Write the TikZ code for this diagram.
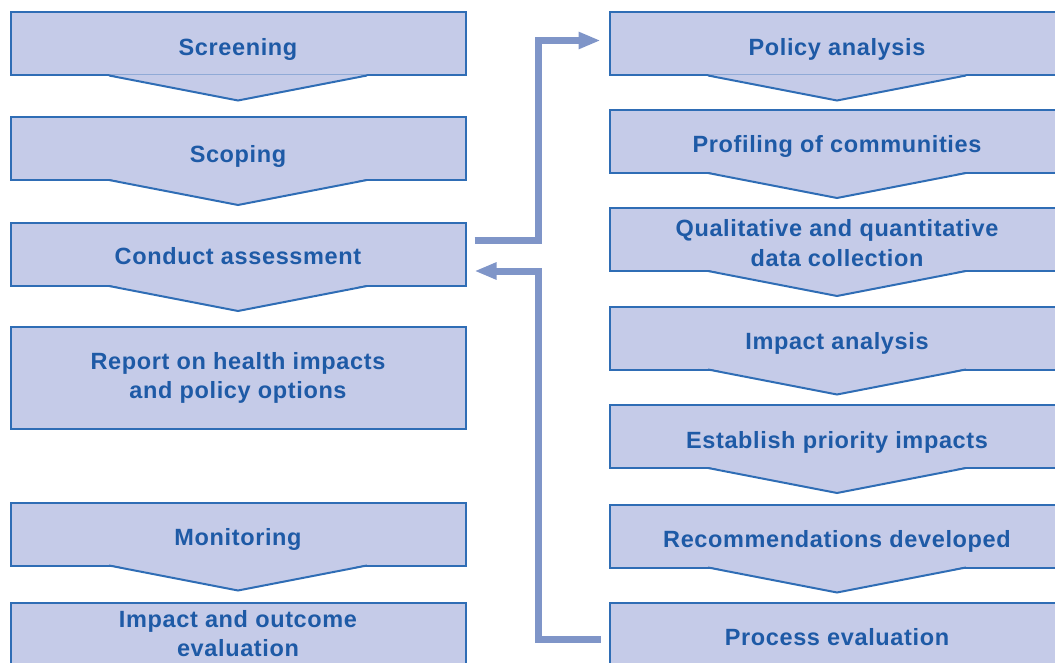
\documentclass[tikz,border=0pt]{standalone}
\usepackage{fontspec}
\setmainfont{Liberation Sans}[LetterSpace=2.7]
\usetikzlibrary{arrows.meta}

\definecolor{boxfill}{HTML}{C5CBE8}
\definecolor{boxline}{HTML}{2F6DB5}
\definecolor{boxtext}{HTML}{1E5AA6}
\definecolor{flowline}{HTML}{7F95C8}

\begin{document}
\begin{tikzpicture}[
		x=1pt, y=-1pt,
		>={Triangle[length=22pt,width=16pt]},
		stage/.style={
			draw=boxline,
			fill=boxfill,
			line width=2pt,
			outer sep=0pt,
			inner sep=0pt,
			minimum width=455pt,
			minimum height=63pt,
			align=center,
			text=boxtext,
			text height=26pt,
			text depth=3pt,
			font=\bfseries\fontsize{23.5}{29.5}\selectfont
		},
		notchfill/.style={fill=boxfill},
		notchline/.style={draw=boxline, line width=2pt, line join=miter},
		flow/.style={->, draw=flowline, line width=7pt}
		]
		
		\useasboundingbox (0,0) rectangle (1055,663);
		\clip (0,0) rectangle (1055,663);
		
		% Left column
		\node[stage] (screen) at (238,44) {Screening};
		\node[stage, text height=32pt] (scope) at (238,148.5) {Scoping};
		\node[stage, text height=23pt] (assess) at (238,254.5) {Conduct assessment};
		\node[stage, text height=44pt, minimum height=102pt] (report) at (238,378) {Report on health impacts\\and policy options};
		\node[stage] (monit) at (238,534) {Monitoring};
		\node[stage, text height=48pt] (outcome) at (238,634) {Impact and outcome\\evaluation};
		
		% Right column
		\node[stage] (policy) at (837,44) {Policy analysis};
		\node[stage] (profile) at (837,141.5) {Profiling of communities};
		\node[stage, text height=56pt] (collect) at (837,239.5) {Qualitative and quantitative\\data collection};
		\node[stage] (impact) at (837,338) {Impact analysis};
		\node[stage] (priority) at (837,436.5) {Establish priority impacts};
		\node[stage] (recomm) at (837,536) {Recommendations developed};
		\node[stage] (process) at (837,634) {Process evaluation};
		
		% Chevron points under the stages
		\foreach \n in {screen,scope,assess,monit,policy,profile,collect,impact,priority,recomm}{
			\fill[notchfill] ([xshift=-129pt,yshift=1pt]\n.south) -- ([yshift=-25pt]\n.south)
			-- ([xshift=129pt,yshift=1pt]\n.south) -- cycle;
			\draw[notchline] ([xshift=-129pt]\n.south) -- ([yshift=-25pt]\n.south)
			-- ([xshift=129pt]\n.south);
		}
		
		% Bends of the connectors
		\coordinate (bendout) at (538,40.5);
		\coordinate (bendback) at (538,271);
		
		% Into the assessment steps and back
		\draw[flow] ([xshift=9pt,yshift=14pt]assess.east) -| (bendout)
		-- ([xshift=-9pt,yshift=3.5pt]policy.west);
		\draw[flow] ([xshift=-9pt,yshift=-5pt]process.west) -| (bendback)
		-- ([xshift=9pt,yshift=-16.5pt]assess.east);
		
	\end{tikzpicture}
\end{document}
